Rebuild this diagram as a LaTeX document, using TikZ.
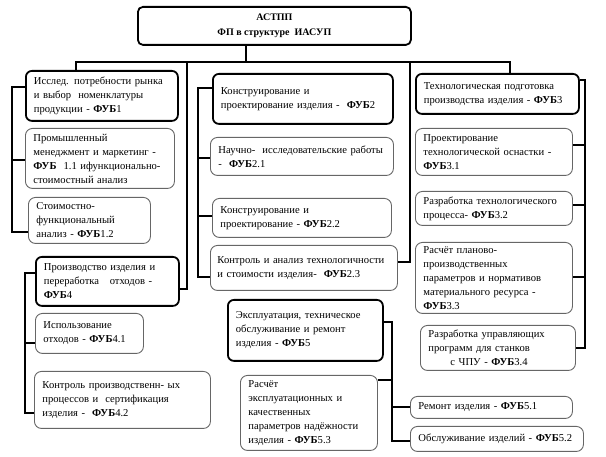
\documentclass[tikz,border=0pt]{standalone}
\usepackage{fontspec}
\setmainfont{Liberation Serif}
\usetikzlibrary{calc}
\tikzset{
  boxbase/.style={anchor=north west, inner xsep=8pt, inner ysep=0pt, align=left,
    font=\fontsize{10.6}{14}\selectfont},
  mainbox/.style={boxbase, draw=black, line width=1.8pt, rounded corners=6pt},
  subbox/.style={boxbase, draw=black!60, line width=0.9pt, rounded corners=7pt},
  topbox/.style={anchor=north west, draw=black, line width=1.8pt, rounded corners=5pt, align=center,
    inner sep=0pt, font=\fontsize{10}{15}\selectfont\bfseries},
  conn/.style={draw=black, line width=1.5pt},
}
\newcommand{\fub}{\textbf{ФУБ}}
\begin{document}
\begin{tikzpicture}[x=1pt,y=-1pt]
\useasboundingbox (0,0) rectangle (606,457);
% top
\node[topbox, minimum width=273pt, minimum height=38pt] (top) at (137,6) {АСТПП\\ФП в структуре\ \ ИАСУП};
% column 1
\node[mainbox, minimum width=152pt, minimum height=50pt, text width=136pt] (b1) at (25,70)
  {Исслед. потребности рынка\\и выбор\ \ номенклатуры\\продукции - \fub1};
\node[subbox, minimum width=149pt, minimum height=60pt, text width=133pt] (b11) at (25,128)
  {Промышленный\\менеджмент и маркетинг -\\\fub\ \ 1.1 ифункционально-\\стоимостный анализ};
\node[subbox, minimum width=122pt, minimum height=46pt, text width=106pt] (b12) at (28,197)
  {Стоимостно-\\функциональный\\анализ - \fub1.2};
% column 4
\node[mainbox, minimum width=143pt, minimum height=49pt, text width=127pt] (b4) at (35,256)
  {Производство изделия и\\переработка\quad отходов -\\\fub4};
\node[subbox, minimum width=108pt, minimum height=40pt, text width=92pt] (b41) at (35,313)
  {Использование\\отходов - \fub4.1};
\node[subbox, minimum width=176pt, minimum height=57pt, text width=160pt] (b42) at (34,371)
  {Контроль производственн- ых\\процессов и\ \ сертификация\\изделия -\ \ \fub4.2};
% column 2
\node[mainbox, minimum width=180pt, minimum height=50pt, text width=164pt] (b2) at (212,73)
  {Конструирование и\\проектирование изделия -\ \ \fub2};
\node[subbox, minimum width=183pt, minimum height=38pt, text width=167pt] (b21) at (210,137)
  {Научно-\ \ исследовательские работы\\-\ \ \fub2.1};
\node[subbox, minimum width=179pt, minimum height=39pt, text width=163pt] (b22) at (212,198)
  {Конструирование и\\проектирование - \fub2.2};
\node[subbox, minimum width=187pt, minimum height=45pt, text width=173pt, inner xsep=7pt] (b23) at (210,245)
  {Контроль и анализ технологичности\\и стоимости изделия-\ \ \fub2.3};
% column 3
\node[mainbox, minimum width=163pt, minimum height=40pt, text width=147pt] (b3) at (415,73)
  {Технологическая подготовка\\производства изделия - \fub3};
\node[subbox, minimum width=157pt, minimum height=47pt, text width=141pt] (b31) at (415,128)
  {Проектирование\\технологической оснастки -\\\fub3.1};
\node[subbox, minimum width=157pt, minimum height=34pt, text width=141pt] (b32) at (415,191)
  {Разработка технологического\\процесса- \fub3.2};
\node[subbox, minimum width=157pt, minimum height=71pt, text width=141pt] (b33) at (415,242)
  {Расчёт планово-\\производственных\\параметров и нормативов\\материального ресурса -\\\fub3.3};
\node[subbox, minimum width=155pt, minimum height=45pt, text width=139pt] (b34) at (420,325)
  {Разработка управляющих\\программ для станков\\\hspace*{22pt}с ЧПУ - \fub3.4};
% column 5
\node[mainbox, minimum width=155pt, minimum height=61pt, text width=139pt] (b5) at (227,299)
  {Эксплуатация, техническое\\обслуживание и ремонт\\изделия - \fub5};
\node[subbox, minimum width=137pt, minimum height=75pt, text width=121pt] (b53) at (240,375)
  {Расчёт\\эксплуатационных и\\качественных\\параметров надёжности\\изделия - \fub5.3};
\node[subbox, minimum width=162pt, minimum height=22pt, text width=146pt] (b51) at (410,396)
  {Ремонт изделия - \fub5.1};
\node[subbox, minimum width=173pt, minimum height=25pt, text width=157pt] (b52) at (410,426)
  {Обслуживание изделий - \fub5.2};
% bus coordinates
\coordinate (stem) at (246,62);
\coordinate (busL) at (76,62);
\coordinate (busR) at (510,62);
\coordinate (d4) at (187,62);
\coordinate (e4) at (187,289);
\coordinate (d2) at (410,62);
\coordinate (e2) at (410,262);
\draw[conn] (top.south -| stem) -- (stem);
\draw[conn] (b1.north -| busL) -- (busL) -- (busR) -- (b3.north -| busR);
\draw[conn] (d4) -- (e4) -- (b4.east |- e4);
\draw[conn] (d2) -- (e2) -- (b23.east |- e2);
% column 1 bracket
\coordinate (L1a) at (12,87);
\coordinate (L1b) at (12,160);
\coordinate (L1c) at (12,232);
\draw[conn] (b1.west |- L1a) -- (L1a) -- (L1c) -- (b12.west |- L1c);
\draw[conn] (L1b) -- (b11.west |- L1b);
% column 4 bracket
\coordinate (L4a) at (25,273);
\coordinate (L4b) at (25,343);
\coordinate (L4c) at (25,413);
\draw[conn] (b4.west |- L4a) -- (L4a) -- (L4c) -- (b42.west |- L4c);
\draw[conn] (L4b) -- (b41.west |- L4b);
% column 2 bracket
\coordinate (L2a) at (198,88);
\coordinate (L2b) at (198,158);
\coordinate (L2c) at (198,216);
\coordinate (L2d) at (198,277);
\draw[conn] (b2.west |- L2a) -- (L2a) -- (L2d) -- (b23.west |- L2d);
\draw[conn] (L2b) -- (b21.west |- L2b);
\draw[conn] (L2c) -- (b22.west |- L2c);
% column 3 bracket
\coordinate (R3a) at (585,80);
\coordinate (R3b) at (585,145);
\coordinate (R3c) at (585,205);
\coordinate (R3d) at (585,277);
\coordinate (R3e) at (585,348);
\draw[conn] (b3.east |- R3a) -- (R3a) -- (R3e) -- (b34.east |- R3e);
\draw[conn] (R3b) -- (b31.east |- R3b);
\draw[conn] (R3c) -- (b32.east |- R3c);
\draw[conn] (R3d) -- (b33.east |- R3d);
% column 5 bracket
\coordinate (R5a) at (392,322);
\coordinate (R5b) at (392,380);
\coordinate (R5c) at (392,407);
\coordinate (R5d) at (392,441);
\draw[conn] (b5.east |- R5a) -- (R5a) -- (R5d) -- (b52.west |- R5d);
\draw[conn] (R5b) -- (b53.east |- R5b);
\draw[conn] (R5c) -- (b51.west |- R5c);
\end{tikzpicture}
\end{document}
